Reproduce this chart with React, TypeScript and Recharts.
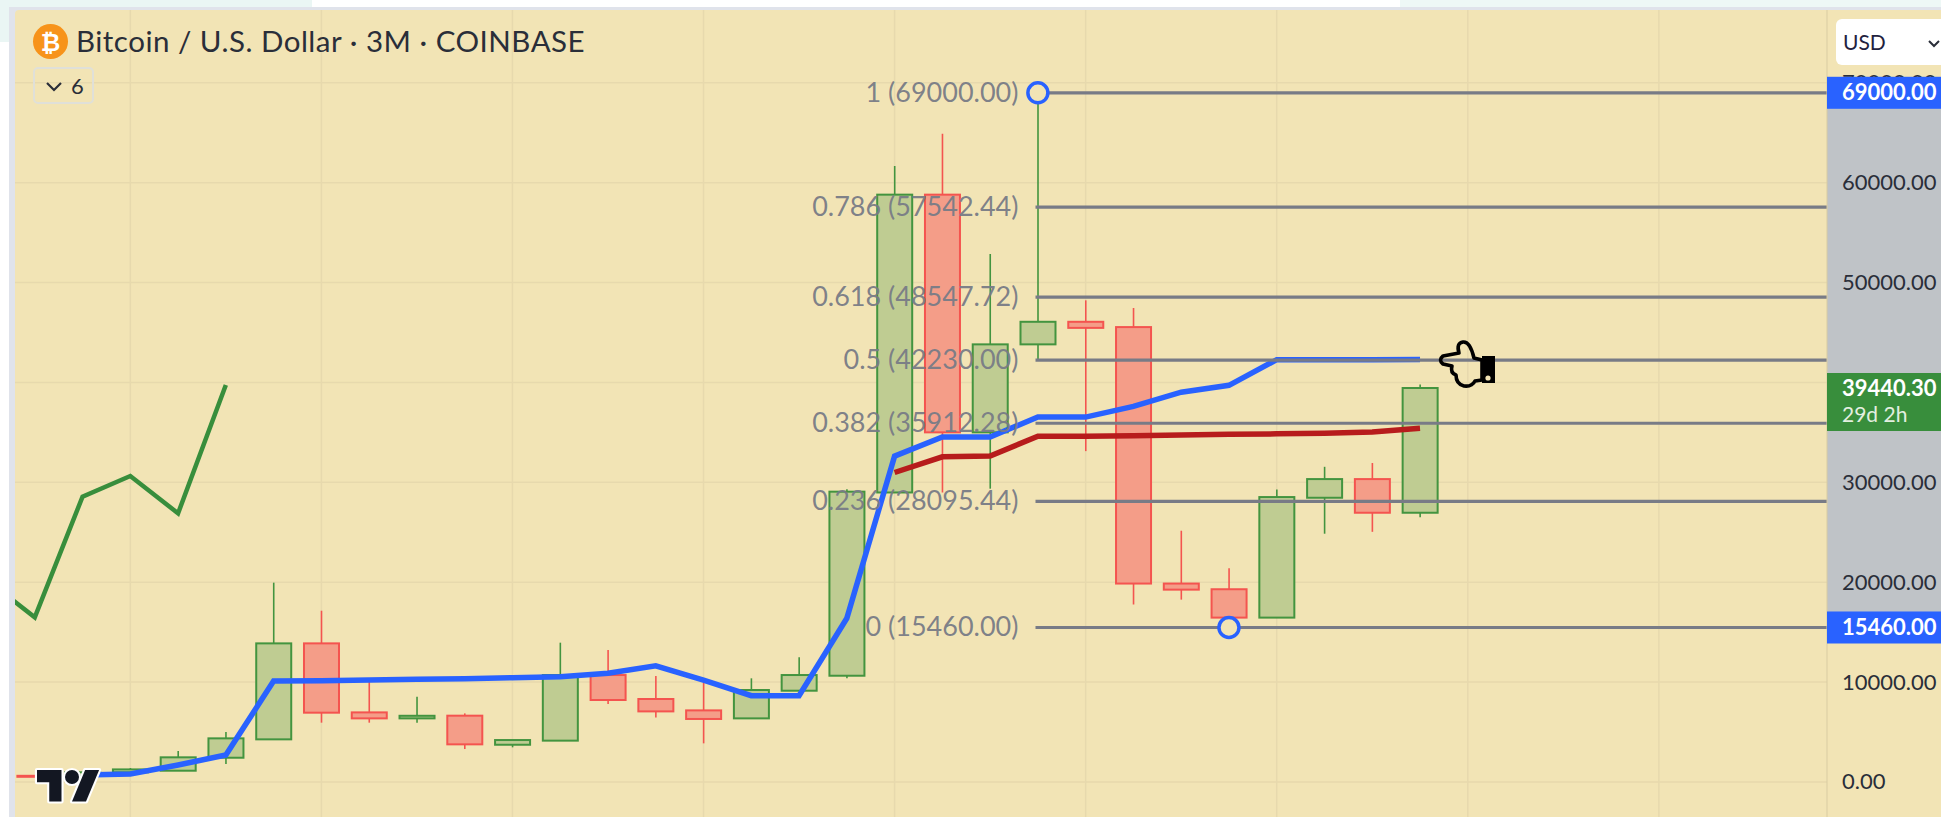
import React from 'react';
import { ComposedChart, Bar, Line, XAxis, YAxis, CartesianGrid, ReferenceLine, ReferenceDot, ReferenceArea } from 'recharts';

const quarters = ['2016 Q2','2016 Q3','2016 Q4','2017 Q1','2017 Q2','2017 Q3','2017 Q4','2018 Q1','2018 Q2','2018 Q3','2018 Q4','2019 Q1','2019 Q2','2019 Q3','2019 Q4','2020 Q1','2020 Q2','2020 Q3','2020 Q4','2021 Q1','2021 Q2','2021 Q3','2021 Q4','2022 Q1','2022 Q2','2022 Q3','2022 Q4','2023 Q1','2023 Q2','2023 Q3','2023 Q4'];
const opens = [null,610,590,960,1120,2420,4260,13870,6960,6360,6630,3720,4130,10700,8300,7160,6360,9130,10630,28980,58800,35000,43810,46070,45540,19860,19290,16450,28450,30320,26950];
const closes = [null,590,960,1250,2460,4360,13870,6930,6360,6620,3760,4190,10700,8200,7060,6300,9200,10700,29060,58800,35000,43810,46070,45460,19860,19250,16450,28520,30320,26950,39440.3];
const highs = [null,615,1000,1390,3090,5000,19950,17140,10030,8530,6860,4190,13940,13200,10600,9930,10370,12470,29300,61670,64890,52860,69000,48220,47450,25150,21400,29290,31550,31930,39790];
const lows = [null,585,580,750,1120,1790,4260,5930,5930,5930,3290,3460,4130,7800,6460,3860,6360,9130,10370,28980,28980,29360,42230,33120,17760,18250,15460,16450,24850,25040,26490];
const blueLine = [null,null,700,787,1690,2690,10100,10134,10200,10270,10335,10435,10535,10870,11630,10200,8630,8630,16380,32620,34540,34540,36530,36530,37600,39020,39710,42280,42280,42280,42290];
const redLine = [null,null,null,null,null,null,null,null,null,null,null,null,null,null,null,null,null,null,null,30980,32550,32620,34620,34620,34650,34730,34810,34850,34920,35040,35420];
const greenLine = [20240,16480,28560,30630,26890,39740,null,null,null,null,null,null,null,null,null,null,null,null,null,null,null,null,null,null,null,null,null,null,null,null,null];
const fibRatios = ['1','0.786','0.618','0.5','0.382','0.236','0'];
const fibPrices = [69000,57542.44,48547.72,42230,35912.28,28095.44,15460];
const yTicks = [0,10000,20000,30000,40000,50000,60000,70000];
const tagPrices = [69000,15460];
const lastPrice = 39440.3;
const lastCountdown = '29d 2h';
const yearTicks = [3,7,11,15,19,23,27,31,35];

const xDomain: [number, number] = [0.586, 38.52];
const yDomain: [number, number] = [-3515, 77290];
const fibAnchorIndex = 22;
const fibLowIndex = 26;

const rows = quarters.map((q, i) => ({
  i, quarter: q,
  range: highs[i] == null ? null : [lows[i], highs[i]],
  open: opens[i], close: closes[i], high: highs[i], low: lows[i],
  blue: blueLine[i], red: redLine[i], green: greenLine[i],
}));

const BG = '#f2e4b5';
const GRID = '#e7d9ad';
const FONT = 'Lato, sans-serif';
const FIB = '#787b86';
const BLUE = '#2962ff';

const yearGridLines = ({ xAxis, offset }: any) =>
  yearTicks.map((t) =>
    xAxis && typeof xAxis.scale === 'function'
      ? xAxis.scale(t)
      : offset.left + ((t - xDomain[0]) / (xDomain[1] - xDomain[0])) * offset.width
  );

const Candle = (props: any) => {
  const { x, y, width, height, payload } = props;
  if (!payload || payload.high == null) return null;
  const { open, close, high, low } = payload;
  const at = (v: number) => y + ((high - v) / (high - low)) * height;
  const up = close >= open;
  const edge = up ? '#43943f' : '#f4544f';
  const fill = up ? '#bfcc92' : '#f49d88';
  const top = at(Math.max(open, close));
  const bot = at(Math.min(open, close));
  const cx = x + width / 2;
  return (
    <g>
      <line x1={cx} x2={cx} y1={y} y2={y + height} stroke={edge} strokeWidth={1.6} />
      <rect x={x + 0.5} y={top} width={width - 1} height={Math.max(bot - top, 1)} fill={fill} stroke={edge} strokeWidth={2} />
    </g>
  );
};

const FibLabel = ({ viewBox, text }: any) => (
  <text x={viewBox.x - 17} y={viewBox.y + 2} textAnchor="end" dominantBaseline="middle" fontFamily={FONT} fontSize={27} fill="#787b86" fillOpacity={0.95}>{text}</text>
);

const AxisTick = ({ x, y, payload }: any) => {
  const v = payload.value;
  const left = x - 15;
  const label = v.toFixed(2);
  if (tagPrices.includes(v)) {
    return (
      <g>
        <rect x={left} y={y - 16} width={114} height={32} fill={BLUE} />
        <text x={left + 15} y={y + 2} dominantBaseline="middle" fontFamily={FONT} fontWeight={700} fontSize={22} fill="#fff">{label}</text>
      </g>
    );
  }
  if (v === lastPrice) {
    return (
      <g>
        <rect x={left} y={y - 15} width={114} height={58} fill="#388e3c" />
        <text x={left + 15} y={y + 2} dominantBaseline="middle" fontFamily={FONT} fontWeight={700} fontSize={22} fill="#fff">{label}</text>
        <text x={left + 15} y={y + 29} dominantBaseline="middle" fontFamily={FONT} fontSize={21} fill="#e3efe0">{lastCountdown}</text>
      </g>
    );
  }
  return <text x={left + 15} y={y + 2} dominantBaseline="middle" fontFamily={FONT} fontSize={22} fill="#2a2e39">{label}</text>;
};

const AxisBand = (props: any) => {
  const { x, y, width, height } = props;
  return <rect x={x + width} y={y} width={114} height={height} fill="#bfc3c7" />;
};

export default function App() {
  return (
    <div style={{ position: 'absolute', left: 0, top: 0, width: 1941, height: 817, overflow: 'hidden', background: '#fff' }}>
      <div style={{ position: 'absolute', left: 0, top: 0, width: 312, height: 42, background: '#eaf6f4' }} />
      <div style={{ position: 'absolute', left: 1400, top: 0, width: 541, height: 8, background: '#eef8f6' }} />
      <div style={{ position: 'absolute', left: 9, top: 7, width: 1932, height: 810, background: '#e0e3eb' }} />
      <div style={{ position: 'absolute', left: 15, top: 10, width: 1926, height: 807, background: BG, borderTopLeftRadius: 4 }} />
      <div style={{ position: 'absolute', left: 0, top: 0 }}>
        <ComposedChart width={1941} height={817} data={rows} margin={{ top: 10, right: 0, bottom: 0, left: 15 }} barSize={36}>
          <CartesianGrid stroke={GRID} strokeWidth={1.5} verticalCoordinatesGenerator={yearGridLines} horizontalValues={yTicks} />
          <XAxis dataKey="i" type="number" domain={xDomain} allowDataOverflow ticks={yearTicks} height={0} tick={false} tickLine={false} axisLine={false} />
          <ReferenceArea x1={xDomain[0]} x2={xDomain[1]} y1={fibPrices[0]} y2={fibPrices[6]} shape={AxisBand} ifOverflow="visible" />
          <YAxis orientation="right" width={114} domain={yDomain} allowDataOverflow ticks={[...yTicks, ...tagPrices, lastPrice]} interval={0} tickLine={false} tickSize={0} axisLine={{ stroke: '#d9cca2' }} tickMargin={15}
            tick={AxisTick} />
          <Bar dataKey="range" shape={Candle} isAnimationActive={false} />
          <Line dataKey="green" stroke="#388e3c" strokeWidth={4.5} dot={false} isAnimationActive={false} />
          <Line dataKey="red" stroke="#b71c1c" strokeWidth={5.5} dot={false} isAnimationActive={false} />
          <Line dataKey="blue" stroke={BLUE} strokeWidth={5.5} dot={false} isAnimationActive={false} />
          {fibPrices.map((p, k) => (
            <ReferenceLine key={k} segment={[{ x: fibAnchorIndex - 0.05, y: p }, { x: xDomain[1], y: p }]} stroke={FIB} strokeWidth={3.2} ifOverflow="visible"
              label={(lp: any) => <FibLabel viewBox={lp.viewBox} text={`${fibRatios[k]} (${p.toFixed(2)})`} />} />
          ))}
          <ReferenceDot x={fibAnchorIndex} y={fibPrices[0]} r={10} fill={BG} stroke={BLUE} strokeWidth={3.5} ifOverflow="visible" />
          <ReferenceDot x={fibLowIndex} y={fibPrices[6]} r={10} fill={BG} stroke={BLUE} strokeWidth={3.5} ifOverflow="visible" />
        </ComposedChart>
      </div>
      {/* Header */}
      <div style={{ position: 'absolute', left: 33, top: 24, width: 35, height: 35, borderRadius: '50%', background: '#f7931a', color: '#fff', fontFamily: FONT, fontWeight: 700, fontSize: 24, lineHeight: '35px', textAlign: 'center' }}>₿</div>
      <div style={{ position: 'absolute', left: 76, top: 22, fontFamily: FONT, fontSize: 29.5, letterSpacing: 0.5, lineHeight: '38px', color: '#2a2e39', whiteSpace: 'nowrap' }}>Bitcoin / U.S. Dollar · 3M · COINBASE</div>
      <div style={{ position: 'absolute', left: 33, top: 67, width: 61, height: 37, boxSizing: 'border-box', border: '2px solid #e0e0d8', borderRadius: 5, fontFamily: FONT, fontSize: 22, lineHeight: '33px', color: '#2a2e39' }}>
        <svg width="20" height="12" style={{ position: 'absolute', left: 9, top: 12 }}><path d="M3 2 L10 9 L17 2" fill="none" stroke="#2a2e39" strokeWidth="2.2" /></svg>
        <span style={{ position: 'absolute', left: 36, top: 0 }}>6</span>
      </div>
      {/* Currency button */}
      <div style={{ position: 'absolute', left: 1836, top: 19, width: 110, height: 46, background: '#fff', borderRadius: 6, fontFamily: FONT, fontSize: 21, lineHeight: '46px', color: '#1f2240' }}>
        <span style={{ position: 'absolute', left: 7, top: 0 }}>USD</span>
        <svg width="14" height="10" style={{ position: 'absolute', left: 91, top: 20 }}><path d="M2 2 L7 7 L12 2" fill="none" stroke="#2a2e39" strokeWidth="2" /></svg>
      </div>
      {/* Watermark logo */}
      <svg width="72" height="42" style={{ position: 'absolute', left: 33, top: 766 }}>
        <g transform="translate(4,4) scale(1.75)">
          <g stroke="#fff" strokeWidth="2.4" strokeLinejoin="round" paintOrder="stroke" fill="#131722">
            <path d="M14 18H7V7H0V0h14v18z" />
            <path d="M28 18h-8l7.5-18h8L28 18z" />
            <circle cx="20" cy="4" r="4" />
          </g>
        </g>
      </svg>
      {/* Pointer cursor */}
      <svg width="70" height="60" viewBox="1435 335 70 60" style={{ position: 'absolute', left: 1435, top: 335 }}>
        <path d="M1482 360 L1474 358 Q1470 341 1463 342 Q1456 343 1459 353 L1443 356 Q1438 360 1443 364 L1452 366 Q1450 373 1456 375 Q1456 384 1464 386 Q1472 387 1475 381 L1482 380 Z" fill="none" stroke="#000" strokeWidth="3.6" strokeLinejoin="round" />
        <rect x="1482" y="356" width="13" height="27" fill="#000" />
        <circle cx="1488" cy="378" r="2.6" fill="#f2e4b5" />
      </svg>
    </div>
  );
}
